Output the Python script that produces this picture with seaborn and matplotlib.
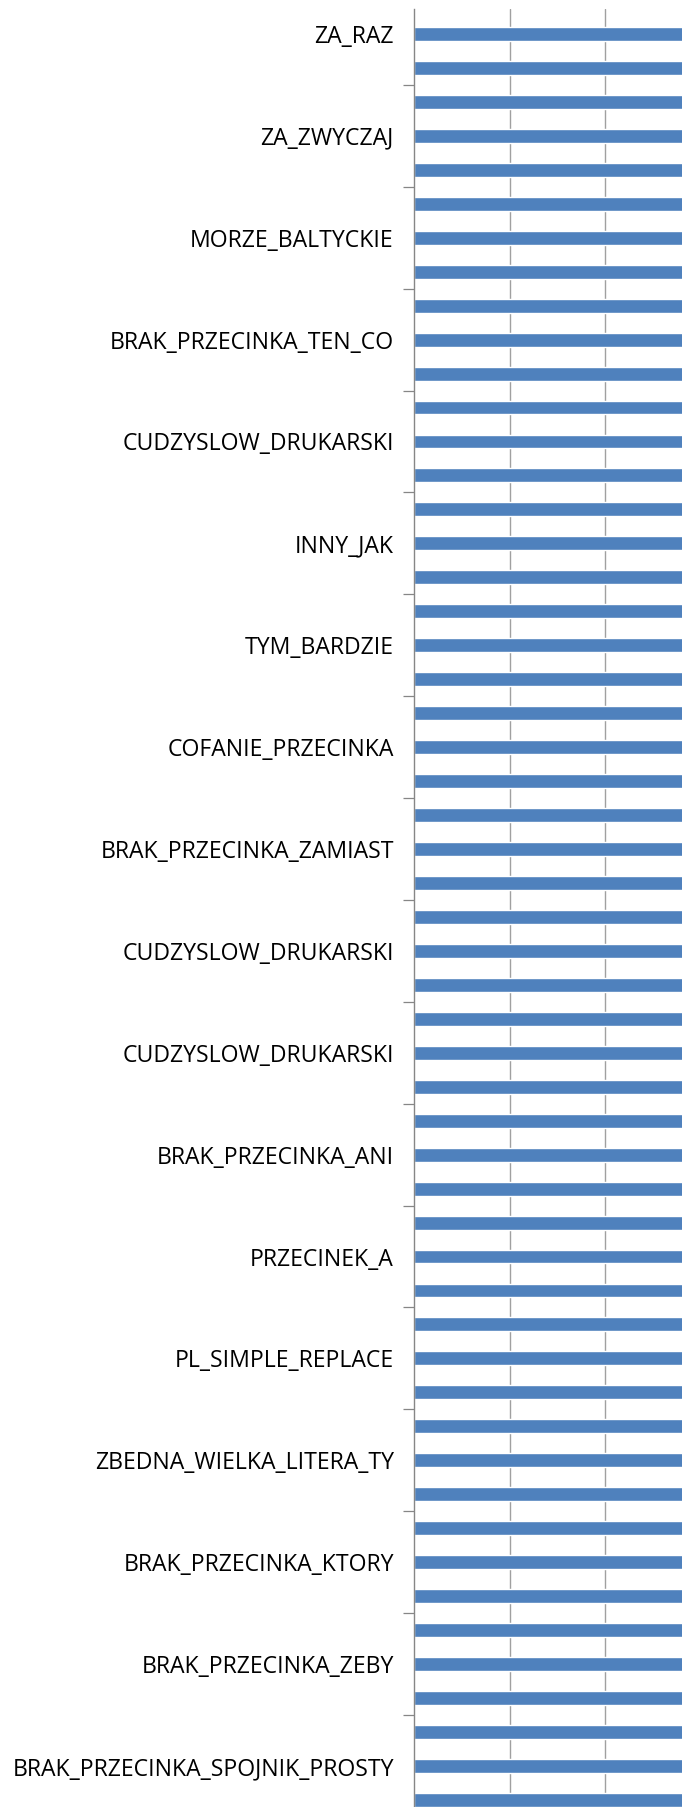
import matplotlib
matplotlib.use("Agg")
import matplotlib.pyplot as plt
from matplotlib.ticker import FixedLocator
import seaborn as sns
import pandas as pd

# Rule names shown on the category axis (one label per block of three bars)
rule_labels = [
    "ZA_RAZ", "ZA_ZWYCZAJ", "MORZE_BALTYCKIE", "BRAK_PRZECINKA_TEN_CO",
    "CUDZYSLOW_DRUKARSKI", "INNY_JAK", "TYM_BARDZIE", "COFANIE_PRZECINKA",
    "BRAK_PRZECINKA_ZAMIAST", "CUDZYSLOW_DRUKARSKI", "CUDZYSLOW_DRUKARSKI",
    "BRAK_PRZECINKA_ANI", "PRZECINEK_A", "PL_SIMPLE_REPLACE",
    "ZBEDNA_WIELKA_LITERA_TY", "BRAK_PRZECINKA_KTORY", "BRAK_PRZECINKA_ZEBY",
    "BRAK_PRZECINKA_SPOJNIK_PROSTY",
]

# Bar values (every bar runs past the right edge of the visible range)
bar_values = [
    3.2, 3.2, 3.2, 3.2, 3.2, 3.2, 3.2, 3.2, 3.2,
    3.2, 3.2, 3.2, 3.2, 3.2, 3.2, 3.2, 3.2, 3.2,
    3.2, 3.2, 3.2, 3.2, 3.2, 3.2, 3.2, 3.2, 3.2,
    3.2, 3.2, 3.2, 3.2, 3.2, 3.2, 3.2, 3.2, 3.2,
    3.2, 3.2, 3.2, 3.2, 3.2, 3.2, 3.2, 3.2, 3.2,
    3.2, 3.2, 3.2, 3.2, 3.2, 3.2, 3.2, 3.2, 3.2,
]

sns.set_theme(style="white")
plt.rcParams["font.family"] = ["Open Sans", "DejaVu Sans"]

W, H, DPI = 690, 1807, 100
fig = plt.figure(figsize=(W / DPI, H / DPI), dpi=DPI)
ax = fig.add_axes([414 / W, 0.0, (682 - 414) / W, 1 - 9 / H])

df = pd.DataFrame({
    "slot": [str(i) for i in range(len(bar_values))],
    "value": bar_values,
})
sns.barplot(data=df, x="value", y="slot", orient="h", color="#4F81BD",
            saturation=1, width=0.41, ax=ax)

n = len(bar_values)
ax.set_xlim(0, 2.8)
ax.set_ylim(53.21, 0.265)

# vertical gridlines
ax.set_xticks([1, 2])
ax.xaxis.grid(True, color="#A0A0A0", linewidth=1.0)
ax.set_axisbelow(True)
ax.tick_params(axis="x", length=0, labelbottom=False)

# category labels on the middle bar of each block, tick marks between blocks
label_pos = list(range(1, n, 3))
ax.set_yticks(label_pos)
ax.set_yticklabels(rule_labels[:len(label_pos)], fontsize=16.6)
ax.yaxis.set_minor_locator(FixedLocator([p + 1.5 for p in label_pos]))
ax.tick_params(axis="y", which="major", length=0, pad=14.5, colors="black")
ax.tick_params(axis="y", which="minor", length=8, width=0.9, color="#868686",
               left=True)

for side in ("top", "right", "bottom"):
    ax.spines[side].set_visible(False)
ax.spines["left"].set_color("#868686")
ax.spines["left"].set_linewidth(1.0)

ax.set_xlabel("")
ax.set_ylabel("")

fig.savefig("out.png", dpi=DPI)
